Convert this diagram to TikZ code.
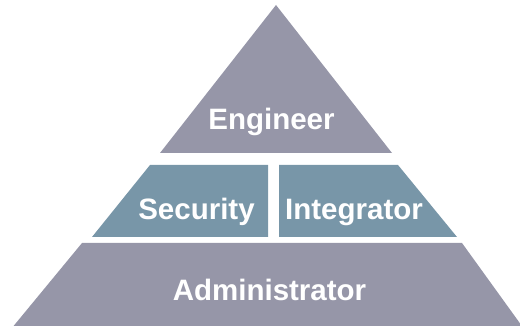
\documentclass[tikz,border=0pt]{standalone}
\usepackage{fontspec}
\setmainfont{Liberation Sans}
\usepackage{tikz}
\usetikzlibrary{positioning}

\definecolor{layergray}{RGB}{150,150,168}
\definecolor{layerblue}{RGB}{120,150,168}

\begin{document}
\begin{tikzpicture}[x=1pt, y=-1pt]
\tikzstyle{label} = [text=white, font=\fontsize{29.5}{31}\selectfont\bfseries, anchor=base, inner sep=0pt]

\useasboundingbox (0,0) rectangle (520,326);

% layers
\fill [layergray] (276,5) -- (392,153) -- (160,153) -- cycle;
\fill [layerblue] (150,165) -- (268,165) -- (268,237) -- (92,237) -- cycle;
\fill [layerblue] (279,165) -- (398,165) -- (457,237) -- (279,237) -- cycle;
\fill [layergray] (82,243) -- (462,243) -- (532,340) -- (2,340) -- cycle;

\node (eng) [label] at (271.5,130) {Engineer};
\node (sec) [label] at (196.5,220) {Security};
\node (int) [label] at (354,220) {Integrator};
\node (adm) [label] at (269.5,300) {Administrator};

\end{tikzpicture}
\end{document}
